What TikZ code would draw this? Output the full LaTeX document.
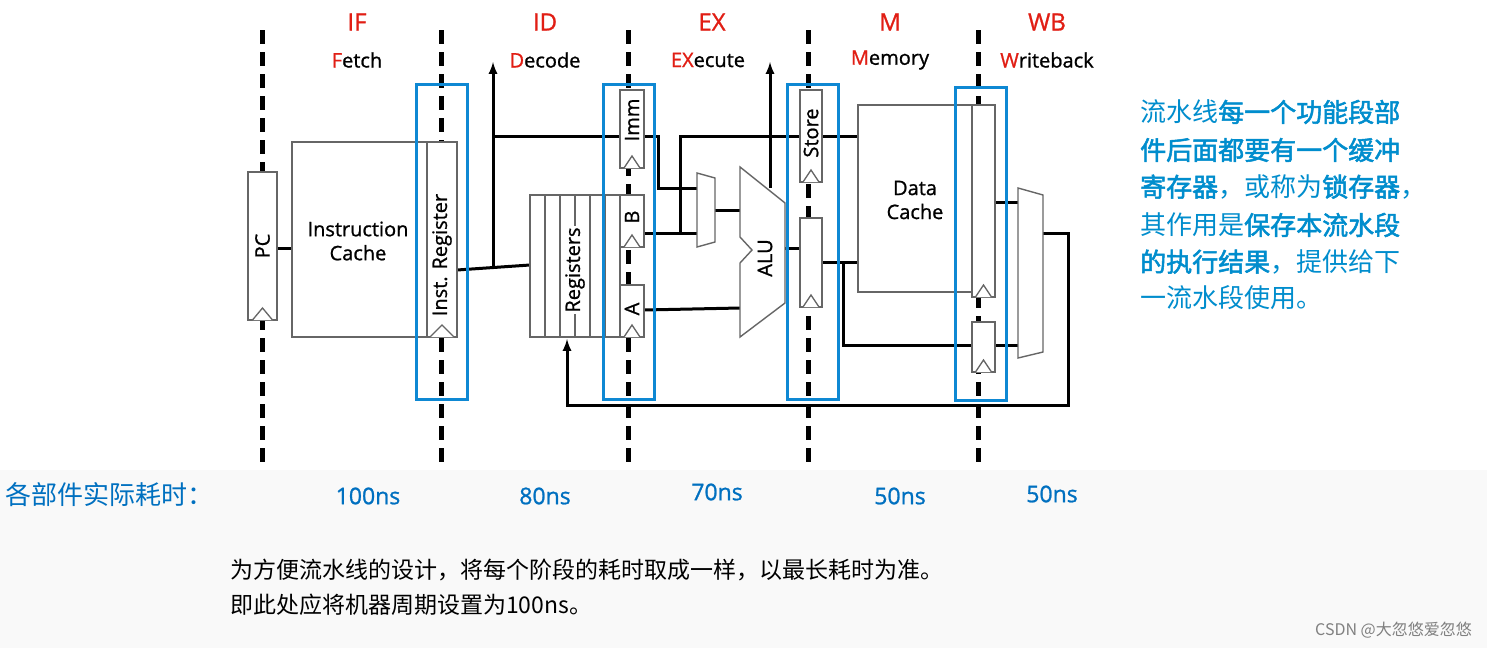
\documentclass[tikz,border=0pt]{standalone}
\usepackage{fontspec}
\setmainfont{Liberation Serif}
\newfontfamily\osans[FakeBold=1]{Open Sans}
\newfontfamily\cjk{Noto Sans CJK SC}
\newfontfamily\cjkb[FakeBold=2]{Noto Sans CJK SC}
\definecolor{tblue}{RGB}{0,112,192}
\definecolor{sred}{RGB}{225,30,20}
\begin{document}
\begin{tikzpicture}[x=1pt,y=-1pt,
 blk/.style={draw=gray!80!black,line width=1.4pt,fill=white},
 wire/.style={draw=black,line width=3pt},
 dline/.style={draw=black,line width=5pt,dash pattern=on 14pt off 8pt},
 hl/.style={draw=cyan!70!blue,line width=3pt},
 stg/.style={text=sred,font=\osans\fontsize{24}{24}\selectfont},
 sub/.style={font=\osans\fontsize{20}{20}\selectfont},
 lab/.style={font=\osans\fontsize{20}{20}\selectfont},
 tm/.style={text=tblue,font=\osans\fontsize{23}{23}\selectfont},
 cn/.style={anchor=west,text=tblue!80!cyan,font=\cjk\fontsize{26}{26}\selectfont,inner sep=0}]
\useasboundingbox (0,0) rectangle (1487,648);
\fill[white] (0,0) rectangle (1487,648);
\fill[gray!5] (0,470) rectangle (1487,648);
\fill[white] (217,8) rectangle (1113,470);
% stage labels
\foreach \x/\a/\b/\c in {357/IF/F/etch,545/ID/D/ecode,890/M/M/emory,1047/WB/W/riteback}{
 \node[stg] (s\a) at (\x,22) {\a};
 \node[sub] (t\a) at (\x,60) {\textcolor{sred}{\b}\c};}
\node[stg] (sEX) at (712,22) {EX};
\node[sub] (tEX) at (708,60) {\textcolor{sred}{EX}ecute};
% dashed
\foreach \x in {262,441,628,808,978}{\draw[dline] (\x,30) -- (\x,465);}
% wires
\draw[wire] (277,248) -- (292,248);
\draw[wire] (457,270) -- (530,265);
\coordinate (j1) at (493,268);
\draw[wire,-latex] (j1) -- (493,62);
\draw[wire] (493,136) -- (620,136);
\draw[wire] (644,136) -- (658,136) -- (658,188) -- (697,188);
\draw[wire] (644,233) -- (697,233);
\draw[wire] (680,233) -- (680,136) -- (858,136);
\draw[wire] (715,210) -- (740,210);
\draw[wire] (644,310) -- (740,308);
\draw[wire,-latex] (770,188) -- (770,62);
\draw[wire] (785,248) -- (800,248);
\draw[wire] (822,262) -- (858,262);
\draw[wire] (843,262) -- (843,345) -- (972,345);
\draw[wire] (995,202) -- (1018,202);
\draw[wire] (995,345) -- (1018,345);
\draw[wire,-latex] (1043,233) -- (1068,233) -- (1068,405) -- (567,405) -- (567,339);
% blocks
\node[blk,minimum width=29pt,minimum height=148pt,inner sep=0] (pc) at (262.5,246) {};
\node[lab,rotate=90] at (pc) {PC};
\draw[blk] (292,142) rectangle (427,337);
\node[lab,align=center] (ic) at (358,241) {Instruction\\[4pt]Cache};
\node[blk,minimum width=30pt,minimum height=195pt,inner sep=0] (ir) at (442,239.5) {};
\node[lab,rotate=90] at (442,255) {Inst. Register};
\draw[blk] (530,195) rectangle (620,337);
\foreach \x in {545,560,575,590,605}{\draw[gray!80!black,line width=1.2pt] (\x,195) -- (\x,337);}
\node[lab,fill=white,inner sep=1pt,rotate=90] (rg) at (575,270) {Registers};
\node[blk,minimum width=24pt,minimum height=78pt,inner sep=0] (imm) at (632,129) {};
\node[lab,rotate=90] at (632,120) {Imm};
\node[blk,minimum width=24pt,minimum height=52pt,inner sep=0] (rb) at (632,221) {};
\node[lab,rotate=90] at (632,217) {B};
\node[blk,minimum width=24pt,minimum height=52pt,inner sep=0] (ra) at (632,311) {};
\node[lab,rotate=90] at (632,309) {A};
\draw[blk] (697,173) -- (715,178) -- (715,242) -- (697,247) -- cycle;
\draw[blk] (740,167) -- (785,203) -- (785,303) -- (740,337) -- (740,263) -- (752,250) -- (740,237) -- cycle;
\node[lab,rotate=90] at (765,258) {ALU};
\node[blk,minimum width=22pt,minimum height=92pt,inner sep=0] (st) at (811,136) {};
\node[lab,rotate=90] at (811,133) {Store};
\node[blk,minimum width=22pt,minimum height=89pt,inner sep=0] (lo) at (811,262.5) {};
\draw[blk] (858,105) rectangle (975,292);
\node[lab,align=center] (dc) at (915,200) {Data\\[4pt]Cache};
\node[blk,minimum width=23pt,minimum height=192pt,inner sep=0] (wu) at (983.5,201) {};
\node[blk,minimum width=23pt,minimum height=50pt,inner sep=0] (wl) at (983.5,347) {};
\draw[blk] (1018,188) -- (1043,195) -- (1043,352) -- (1018,358) -- cycle;
% clock triangles
\foreach \x/\y/\w in {262.5/320/10,442/337/12,632/168/8,632/247/8,632/337/8,811/182/8,811/307/8,983.5/297/8,983.5/372/8}{
 \draw[gray!80!black,line width=1.3pt,fill=white] (\x-\w,\y) -- (\x,\y-12) -- (\x+\w,\y);}
% highlight boxes
\draw[hl] (416,84) rectangle (467,399);
\draw[hl] (603,84) rectangle (654,399);
\draw[hl] (787,84) rectangle (838,399);
\draw[hl] (955,87) rectangle (1006,400);
% right text
\node[cn] (c1) at (1140,112) {流水线{\cjkb 每一个功能段部}};
\node[cn] (c2) at (1140,150) {{\cjkb 件后面都要有一个缓冲}};
\node[cn] (c3) at (1140,187) {{\cjkb 寄存器}，或称为{\cjkb 锁存器}，};
\node[cn] (c4) at (1140,225) {其作用是{\cjkb 保存本流水段}};
\node[cn] (c5) at (1140,262) {{\cjkb 的执行结果}，提供给下};
\node[cn] (c6) at (1140,298) {一流水段使用。};
% times
\node[cn,text=tblue] (ti) at (5,495) {各部件实际耗时：};
\node[tm] (n1) at (368,496) {100ns};
\node[tm] (n2) at (545,496) {80ns};
\node[tm] (n3) at (717,492) {70ns};
\node[tm] (n4) at (900,496) {50ns};
\node[tm] (n5) at (1052,494) {50ns};
\node[anchor=west,inner sep=0,font=\cjk\fontsize{23}{23}\selectfont] (b1) at (230,570) {为方便流水线的设计，将每个阶段的耗时取成一样，以最长耗时为准。};
\node[anchor=west,inner sep=0,font=\cjk\fontsize{23}{23}\selectfont] (b2) at (230,605) {即此处应将机器周期设置为100ns。};
\node[anchor=east,inner sep=0,text=gray,font=\cjk\fontsize{16}{16}\selectfont] (wm) at (1472,630) {CSDN @大忽悠爱忽悠};
\end{tikzpicture}
\end{document}
